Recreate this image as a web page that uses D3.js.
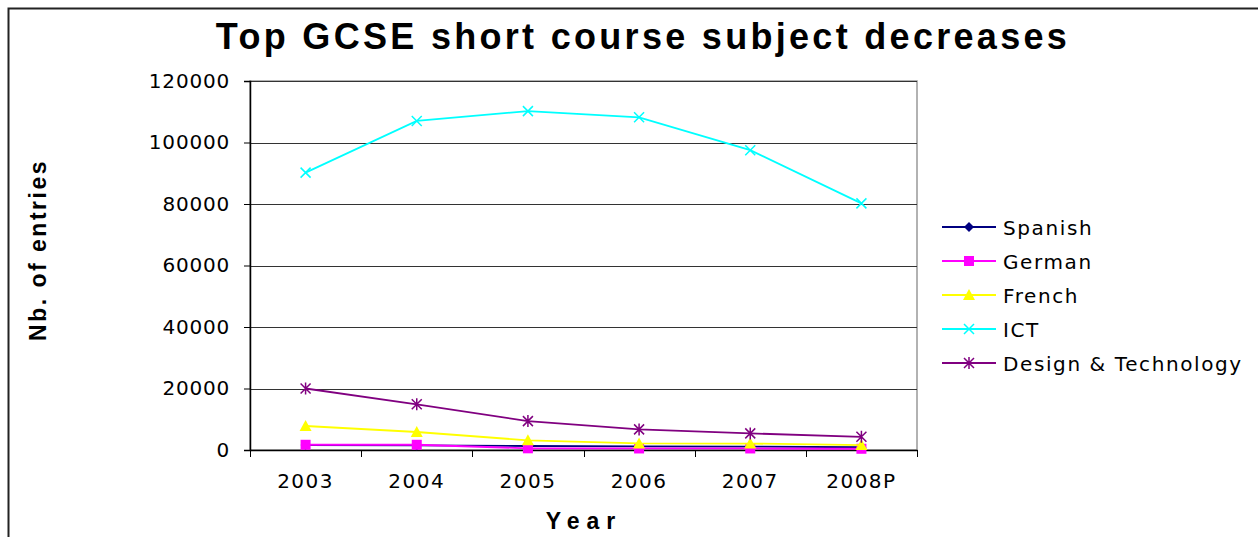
<!DOCTYPE html>
<meta charset="utf-8">
<style>
body { margin: 0; background: #fff; }
text { font-family: "DejaVu Sans", Verdana, sans-serif; fill: #000; }
.tick text { font-size: 20px; }
.grid line { stroke: #333; stroke-width: 1px; }
.heading { font-family: "Liberation Sans", Arial, sans-serif; font-weight: bold; }
</style>
<body>
<script src="https://cdn.jsdelivr.net/npm/d3@7"></script>
<script>

var years = ["2003", "2004", "2005", "2006", "2007", "2008P"];
var spanish = [1600, 1500, 1300, 1200, 1100, 900];
var german = [1700, 1700, 550, 500, 500, 400];
var french = [7800, 5850, 3150, 2150, 2100, 1600];
var ict = [90200, 107000, 110200, 108200, 97500, 80200];
var designTech = [20000, 14850, 9400, 6700, 5400, 4300];
var yTicks = [0, 20000, 40000, 60000, 80000, 100000, 120000];

var series = [
  {name: "Spanish", values: spanish, color: "#000080", marker: "diamond"},
  {name: "German", values: german, color: "#ff00ff", marker: "square"},
  {name: "French", values: french, color: "#ffff00", marker: "triangle"},
  {name: "ICT", values: ict, color: "#00ffff", marker: "cross"},
  {name: "Design & Technology", values: designTech, color: "#800080", marker: "star"}
];

var width = 1258, height = 537;
var plot = {left: 250, right: 917, top: 81, bottom: 450};

var svg = d3.select("body").append("svg")
    .attr("width", width)
    .attr("height", height);

// outer chart border (runs off the right and bottom edges)
svg.append("rect")
    .attr("x", 8.5).attr("y", 8.5)
    .attr("width", 1300).attr("height", 600)
    .attr("fill", "none").attr("stroke", "#222").attr("stroke-width", 2);

var x = d3.scaleBand().domain(years).range([plot.left, plot.right]);
var y = d3.scaleLinear().domain([0, 120000]).range([plot.bottom, plot.top]);

// plot area frame
svg.append("rect")
    .attr("x", plot.left).attr("y", plot.top)
    .attr("width", plot.right - plot.left).attr("height", plot.bottom - plot.top)
    .attr("fill", "none").attr("stroke", "#999").attr("stroke-width", 1.5);

// gridlines
svg.append("g").attr("class", "grid")
  .selectAll("line")
  .data(yTicks.filter(d => d > 0))
  .enter().append("line")
    .attr("x1", plot.left).attr("x2", plot.right)
    .attr("y1", d => Math.round(y(d)) + 0.5).attr("y2", d => Math.round(y(d)) + 0.5);

// y axis
var yAxis = svg.append("g")
    .attr("transform", "translate(" + plot.left + ",0)")
    .call(d3.axisLeft(y).tickValues(yTicks).tickFormat(d3.format("d")).tickSize(6).tickPadding(14));
yAxis.select(".domain").attr("stroke", "#000").attr("stroke-width", 1.5);
yAxis.selectAll(".tick line").attr("stroke", "#000");
yAxis.selectAll(".tick text").style("letter-spacing", "0.8px");

// x axis
var xAxis = svg.append("g")
    .attr("transform", "translate(0," + plot.bottom + ")")
    .call(d3.axisBottom(x).tickSize(0).tickPadding(24));
xAxis.select(".domain").attr("stroke", "#000").attr("stroke-width", 1.5);
xAxis.selectAll(".tick text").style("letter-spacing", "1.5px");
// category boundary ticks
var bounds = years.map(d => x(d)).concat([plot.right]);
xAxis.selectAll(".bound")
  .data(bounds)
  .enter().append("line")
    .attr("class", "bound")
    .attr("x1", d => Math.round(d) + 0.5).attr("x2", d => Math.round(d) + 0.5)
    .attr("y1", 0).attr("y2", 7)
    .attr("stroke", "#000");

var cx = function(i) { return x(years[i]) + x.bandwidth() / 2; };

function drawMarker(g, type, color) {
  if (type == "diamond") {
    g.append("path").attr("d", "M0,-5L5,0L0,5L-5,0Z").attr("fill", color);
  } else if (type == "square") {
    g.append("rect").attr("x", -5).attr("y", -5).attr("width", 10).attr("height", 10).attr("fill", color);
  } else if (type == "triangle") {
    g.append("path").attr("d", "M0,-6L6,5L-6,5Z").attr("fill", color);
  } else if (type == "cross") {
    g.append("path").attr("d", "M-5,-5L5,5M5,-5L-5,5").attr("stroke", color).attr("stroke-width", 1.5);
  } else if (type == "star") {
    g.append("path").attr("d", "M-5,-5L5,5M5,-5L-5,5M0,-6L0,6").attr("stroke", color).attr("stroke-width", 1.5);
  }
}

var line = d3.line()
    .x((d, i) => cx(i))
    .y(d => y(d));

series.forEach(function(s) {
  svg.append("path")
      .datum(s.values)
      .attr("d", line)
      .attr("fill", "none")
      .attr("stroke", s.color)
      .attr("stroke-width", 1.8);
  s.values.forEach(function(v, i) {
    var g = svg.append("g").attr("transform", "translate(" + cx(i) + "," + y(v) + ")");
    drawMarker(g, s.marker, s.color);
  });
});

// legend
var legend = svg.append("g");
series.forEach(function(s, i) {
  var ly = 227 + i * 34;
  legend.append("line")
      .attr("x1", 942).attr("x2", 996)
      .attr("y1", ly).attr("y2", ly)
      .attr("stroke", s.color).attr("stroke-width", 1.8);
  var g = legend.append("g").attr("transform", "translate(969," + ly + ")");
  drawMarker(g, s.marker, s.color);
  legend.append("text")
      .attr("x", 1003).attr("y", ly + 8)
      .style("font-size", "20px")
      .style("letter-spacing", "1.6px")
      .text(s.name);
});

// titles
svg.append("text")
    .attr("class", "heading")
    .attr("x", 643).attr("y", 49)
    .attr("text-anchor", "middle")
    .style("font-size", "36px")
    .style("letter-spacing", "3.3px")
    .text("Top GCSE short course subject decreases");

svg.append("text")
    .attr("class", "heading")
    .attr("x", 584).attr("y", 529)
    .attr("text-anchor", "middle")
    .style("font-size", "23px")
    .style("letter-spacing", "7px")
    .text("Year");

svg.append("text")
    .attr("class", "heading")
    .attr("transform", "translate(46,250) rotate(-90)")
    .attr("text-anchor", "middle")
    .style("font-size", "23px")
    .style("letter-spacing", "2.5px")
    .text("Nb. of entries");

</script>
